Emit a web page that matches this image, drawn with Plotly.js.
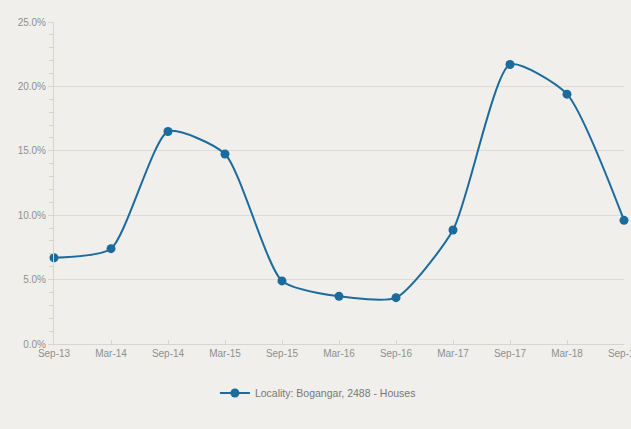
<!DOCTYPE html>
<html>
<head>
<meta charset="utf-8">
<script src="https://cdn.plot.ly/plotly-3.0.1.min.js"></script>
<style>html,body{margin:0;padding:0;background:#f0efeb;}</style>
</head>
<body>
<div id="chart" style="width:631px;height:429px;"></div>
<script>
const categories = ["Sep-13","Mar-14","Sep-14","Mar-15","Sep-15","Mar-16","Sep-16","Mar-17","Sep-17","Mar-18","Sep-18"];
const tickLabels = ["Sep-13","Mar-14","Sep-14","Mar-15","Sep-15","Mar-16","Sep-16","Mar-17","Sep-17","Mar-18","Sep-18"];
const growth = [0.067, 0.074, 0.165, 0.1475, 0.049, 0.037, 0.036, 0.0885, 0.217, 0.194, 0.096];
const seriesName = "Locality: Bogangar, 2488 - Houses";

const trace = {
  x: categories,
  y: growth,
  type: "scatter",
  mode: "lines+markers",
  name: seriesName,
  line: {color: "#1b6b9c", width: 2, shape: "spline", smoothing: 0.6},
  marker: {color: "#1b6b9c", size: 9},
  cliponaxis: false
};

const layout = {
  width: 631, height: 429,
  paper_bgcolor: "#f0efeb",
  plot_bgcolor: "#f0efeb",
  margin: {l: 54, r: 7, t: 22, b: 85},
  font: {family: "Liberation Sans, Arial, sans-serif", size: 10, color: "#8a8a8a"},
  showlegend: true,
  legend: {orientation: "h", x: 0.463, xanchor: "center", y: -0.152, yanchor: "middle",
           font: {size: 10.5, color: "#777"}, bgcolor: "rgba(0,0,0,0)"},
  xaxis: {
    type: "category",
    range: [0, 10],
    tickvals: categories,
    ticktext: tickLabels,
    showgrid: false,
    showline: true, linecolor: "#d6d5d0", linewidth: 1,
    ticks: "inside", ticklen: 4, tickcolor: "#d6d5d0",
    zeroline: false,
    tickfont: {size: 10, color: "#8f8f8f"},
    fixedrange: true
  },
  yaxis: {
    range: [0, 0.25],
    dtick: 0.05,
    tickformat: ".1%",
    showgrid: true, gridcolor: "#dcdbd6", gridwidth: 1,
    showline: true, linecolor: "#d6d5d0", linewidth: 1,
    ticks: "outside", ticklen: 5, tickcolor: "#d6d5d0",
    minor: {dtick: 0.01, ticks: "outside", ticklen: 4, tickcolor: "#d6d5d0", showgrid: false},
    zeroline: false,
    tickfont: {size: 10, color: "#8f8f8f"},
    fixedrange: true
  }
};

Plotly.newPlot("chart", [trace], layout, {displayModeBar: false, staticPlot: true});
</script>
</body>
</html>
